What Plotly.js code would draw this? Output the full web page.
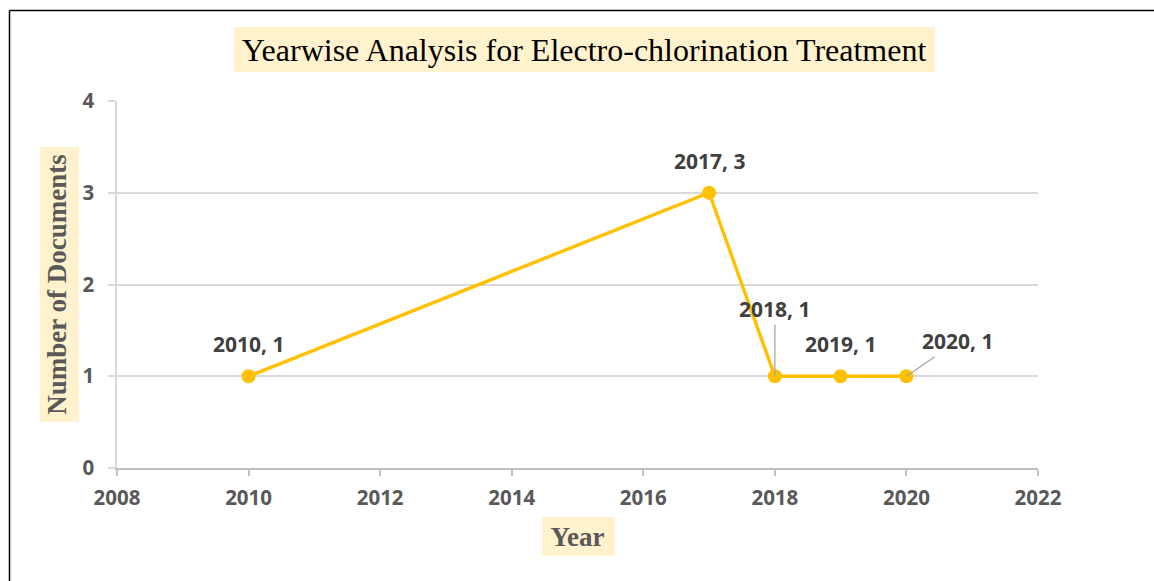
<!DOCTYPE html>
<html>
<head>
<meta charset="utf-8">
<script src="https://cdn.plot.ly/plotly-3.0.1.min.js"></script>
<style>
  html, body { margin: 0; padding: 0; background: #ffffff; }
  #chart { width: 1154px; height: 581px; }
</style>
</head>
<body>
<div id="chart"></div>
<script>
// ---- data ----
const years = [2010, 2017, 2018, 2019, 2020];
const documents = [1, 3, 1, 1, 1];
const xTickValues = [2008, 2010, 2012, 2014, 2016, 2018, 2020, 2022];
const yTickValues = [0, 1, 2, 3, 4];
const chartTitle = 'Yearwise Analysis for Electro-chlorination Treatment';
const xTitle = 'Year';
const yTitle = 'Number of Documents';

// ---- styling (label placement, pixels) ----
const labelStyle = [
  { leader: false, ax: 0, ay: 0 },
  { leader: false, ax: 0, ay: 0 },
  { leader: true, ax: 0, ay: -67 },
  { leader: false, ax: 0, ay: 0 },
  { leader: true, ax: 51, ay: -35 }
];

const lineColor = '#FFC000';
const tickFont = { family: 'Open Sans, Noto Sans, sans-serif', size: 20.5, color: '#595959', weight: 700 };
const labelFont = { family: 'Open Sans, Noto Sans, sans-serif', size: 21, color: '#404040', weight: 700 };
const serifBold = { family: 'Liberation Serif, Times New Roman, serif', size: 27, color: '#595959', weight: 700 };

const trace = {
  type: 'scatter',
  mode: 'lines+markers',
  x: years,
  y: documents,
  line: { color: lineColor, width: 3.4 },
  marker: { color: lineColor, size: 14 },
  hoverinfo: 'x+y',
  showlegend: false
};

const annotations = years.map((yr, i) => {
  const st = labelStyle[i];
  const base = {
    x: yr, y: documents[i], xref: 'x', yref: 'y',
    text: yr + ', ' + documents[i],
    font: labelFont
  };
  if (st.leader) {
    return Object.assign(base, {
      showarrow: true, arrowhead: 0, arrowwidth: 1.3, arrowcolor: '#A6A6A6',
      ax: st.ax, ay: st.ay, standoff: 0
    });
  }
  return Object.assign(base, { showarrow: false, yshift: 32 });
});

// paper-coordinate helpers for plot area (l=117, t=101, w=921, h=367)
const px2x = p => (p - 117) / 921;
const py2y = p => (468 - p) / 367;

const shapes = [
  { type: 'rect', xref: 'paper', yref: 'paper', layer: 'below',
    x0: px2x(234), x1: px2x(935), y0: py2y(72), y1: py2y(27),
    fillcolor: '#FFF2CC', line: { width: 0 } },
  { type: 'rect', xref: 'paper', yref: 'paper', layer: 'below',
    x0: px2x(40), x1: px2x(79), y0: py2y(422), y1: py2y(147),
    fillcolor: '#FFF2CC', line: { width: 0 } },
  { type: 'rect', xref: 'paper', yref: 'paper', layer: 'below',
    x0: px2x(542), x1: px2x(615), y0: py2y(556), y1: py2y(517),
    fillcolor: '#FFF2CC', line: { width: 0 } },
  { type: 'line', xref: 'paper', yref: 'paper',
    x0: px2x(9.5), x1: px2x(9.5), y0: py2y(600), y1: py2y(10.5),
    line: { color: '#000000', width: 1.5 } },
  { type: 'line', xref: 'paper', yref: 'paper',
    x0: px2x(9.5), x1: px2x(1170), y0: py2y(10.5), y1: py2y(10.5),
    line: { color: '#000000', width: 1.5 } }
];

const layout = {
  width: 1154,
  height: 581,
  paper_bgcolor: '#ffffff',
  plot_bgcolor: '#ffffff',
  margin: { l: 117, r: 116, t: 101, b: 113, pad: 0 },
  title: {
    text: chartTitle,
    font: { family: 'Liberation Serif, Times New Roman, serif', size: 32, color: '#000000' },
    x: 584 / 1154, xanchor: 'center', xref: 'container',
    y: 1 - 50 / 581, yanchor: 'middle', yref: 'container'
  },
  xaxis: {
    range: [2008, 2022],
    tickmode: 'array',
    tickvals: xTickValues,
    ticktext: xTickValues.map(String),
    ticks: 'outside', ticklen: 6, tickwidth: 1.5, tickcolor: '#BFBFBF',
    showline: true, linecolor: '#BFBFBF', linewidth: 1.5,
    showgrid: false, zeroline: false,
    tickfont: tickFont, ticklabelstandoff: 5,
    title: { text: xTitle, font: serifBold, standoff: 17 }
  },
  yaxis: {
    range: [0, 4],
    tickmode: 'array',
    tickvals: yTickValues,
    ticktext: yTickValues.map(String),
    ticks: 'outside', ticklen: 7, tickwidth: 1.5, tickcolor: '#D9D9D9',
    showline: true, linecolor: '#D9D9D9', linewidth: 1.5,
    showgrid: true, gridcolor: '#D9D9D9', gridwidth: 1.5, zeroline: false,
    tickfont: tickFont, ticklabelstandoff: 10,
    title: { text: yTitle, font: serifBold, standoff: 8 }
  },
  annotations: annotations,
  shapes: shapes
};

Plotly.newPlot('chart', [trace], layout, { displayModeBar: false, responsive: false });
</script>
</body>
</html>
